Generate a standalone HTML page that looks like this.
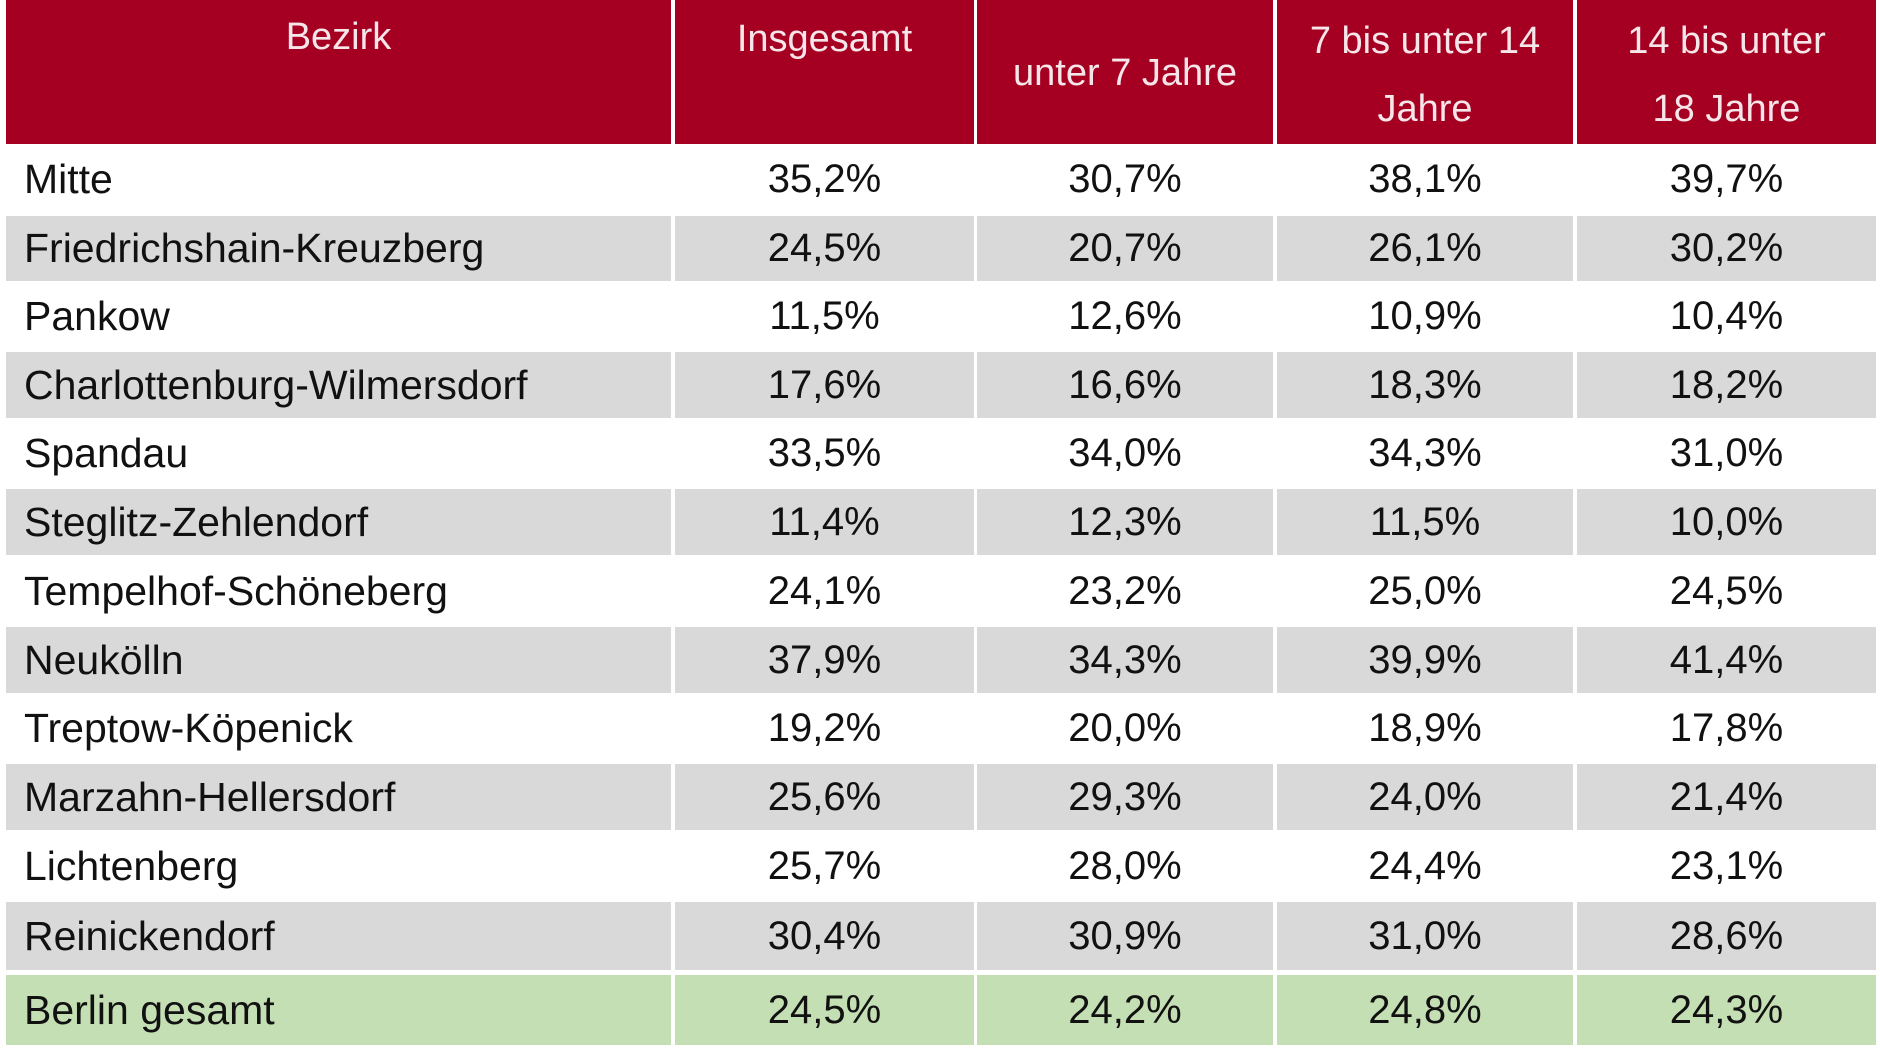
<!DOCTYPE html>
<html><head><meta charset="utf-8">
<style>
html,body{margin:0;padding:0;background:#fff;width:1880px;height:1058px;overflow:hidden;}
#tbl{position:relative;width:1880px;height:1058px;font-family:"Liberation Sans",sans-serif;}
.c{position:absolute;box-sizing:border-box;display:flex;align-items:center;justify-content:center;font-size:40px;color:#111;}
.h{background:#a50021;color:#f6e6ea;flex-direction:column;justify-content:flex-start;line-height:68px;font-size:38px;}
.l{justify-content:flex-start;padding-left:18px;font-size:41px;}
</style></head><body>
<div id="tbl"></div>
<script>
const districts=["Mitte","Friedrichshain-Kreuzberg","Pankow","Charlottenburg-Wilmersdorf","Spandau","Steglitz-Zehlendorf","Tempelhof-Schöneberg","Neukölln","Treptow-Köpenick","Marzahn-Hellersdorf","Lichtenberg","Reinickendorf","Berlin gesamt"];
const insgesamt=["35,2%","24,5%","11,5%","17,6%","33,5%","11,4%","24,1%","37,9%","19,2%","25,6%","25,7%","30,4%","24,5%"];
const unter7=["30,7%","20,7%","12,6%","16,6%","34,0%","12,3%","23,2%","34,3%","20,0%","29,3%","28,0%","30,9%","24,2%"];
const bis14=["38,1%","26,1%","10,9%","18,3%","34,3%","11,5%","25,0%","39,9%","18,9%","24,0%","24,4%","31,0%","24,8%"];
const bis18=["39,7%","30,2%","10,4%","18,2%","31,0%","10,0%","24,5%","41,4%","17,8%","21,4%","23,1%","28,6%","24,3%"];
const headers=[["Bezirk"],["Insgesamt"],["unter 7 Jahre"],["7 bis unter 14","Jahre"],["14 bis unter","18 Jahre"]];
const headerTops=[3,5,39,7,7];
const colX=[[6,671],[675,974],[977,1273],[1277,1573],[1577,1876]];
const rowY=[145,216,284,352,421,489,558,627,696,764,833,902,973,1045];
const cols=[districts,insgesamt,unter7,bis14,bis18];
const colNames=["bezirk","insgesamt","unter-7","7-bis-14","14-bis-18"];
const T=document.getElementById('tbl');
headers.forEach((h,i)=>{
  const d=document.createElement('div');
  d.className='c h';
  
  
  d.style.left=colX[i][0]+'px';d.style.width=(colX[i][1]-colX[i][0])+'px';
  d.style.top='0px';d.style.height='144px';
  d.style.paddingTop=headerTops[i]+'px';
  d.innerHTML=h.map(s=>'<div>'+s+'</div>').join('');
  T.appendChild(d);
});
districts.forEach((name,r)=>{
  const bg=r===12?'#c5dfb4':(r%2===1?'#d9d9d9':'#ffffff');
  cols.forEach((col,i)=>{
    const d=document.createElement('div');
    d.className='c'+(i===0?' l':'');
    
    
    d.style.left=colX[i][0]+'px';d.style.width=(colX[i][1]-colX[i][0])+'px';
    d.style.top=(rowY[r]+(r===12?2:0))+'px';
    d.style.height=(rowY[r+1]-rowY[r]-(r===12?2:3))+'px';
    d.style.background=bg;
    d.textContent=col[r];
    T.appendChild(d);
  });
});
</script>
</body></html>
